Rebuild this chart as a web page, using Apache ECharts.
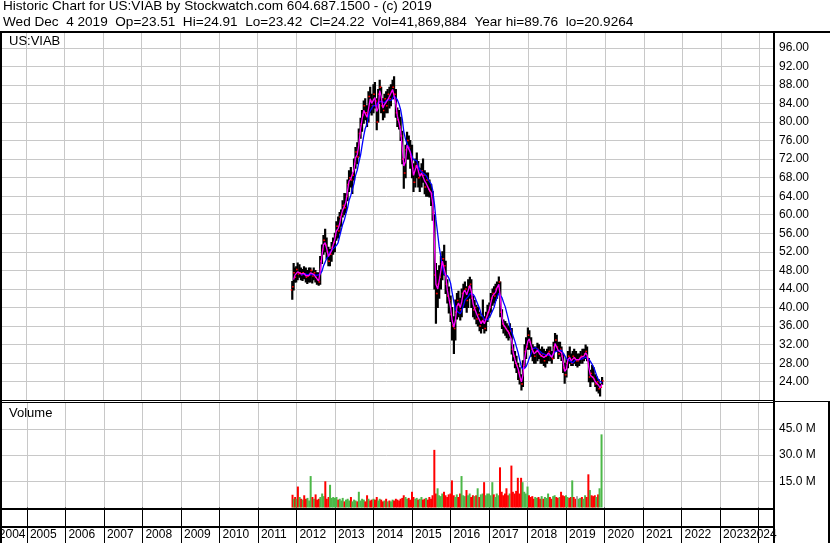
<!DOCTYPE html>
<html><head><meta charset="utf-8">
<script src="https://cdn.jsdelivr.net/npm/echarts@6/dist/echarts.min.js"></script>
<style>html,body{margin:0;padding:0;background:#fff}#c{width:830px;height:543px}</style>
</head><body><div id="c"></div>
<script>
// ---------- data ----------
const dates = [
'2011-11-25','2011-12-08','2011-12-20',
'2012-01-01','2012-01-15','2012-02-01','2012-02-15','2012-03-01','2012-03-15','2012-04-01','2012-04-15','2012-05-01','2012-05-15','2012-06-01','2012-06-15','2012-07-01','2012-07-15','2012-08-01','2012-08-15','2012-09-01','2012-09-15','2012-10-01','2012-10-15','2012-11-01','2012-11-15','2012-12-01','2012-12-15',
'2013-01-01','2013-01-15','2013-02-01','2013-02-15','2013-03-01','2013-03-15','2013-04-01','2013-04-15','2013-05-01','2013-05-15','2013-06-01','2013-06-15','2013-07-01','2013-07-15','2013-08-01','2013-08-15','2013-09-01','2013-09-15','2013-10-01','2013-10-15','2013-11-01','2013-11-15','2013-12-01','2013-12-15',
'2014-01-01','2014-01-15','2014-02-01','2014-02-15','2014-03-01','2014-03-15','2014-04-01','2014-04-15','2014-05-01','2014-05-15','2014-06-01','2014-06-15','2014-07-01','2014-07-15','2014-08-01','2014-08-15','2014-09-01','2014-09-15','2014-10-01','2014-10-15','2014-11-01','2014-11-15','2014-12-01','2014-12-15',
'2015-01-01','2015-01-15','2015-02-01','2015-02-15','2015-03-01','2015-03-15','2015-04-01','2015-04-15','2015-05-01','2015-05-15','2015-06-01','2015-06-15','2015-07-01','2015-07-15','2015-08-01','2015-08-15','2015-09-01','2015-09-15','2015-10-01','2015-10-15','2015-11-01','2015-11-15','2015-12-01','2015-12-15',
'2016-01-01','2016-01-15','2016-02-01','2016-02-15','2016-03-01','2016-03-15','2016-04-01','2016-04-15','2016-05-01','2016-05-15','2016-06-01','2016-06-15','2016-07-01','2016-07-15','2016-08-01','2016-08-15','2016-09-01','2016-09-15','2016-10-01','2016-10-15','2016-11-01','2016-11-15','2016-12-01','2016-12-15',
'2017-01-01','2017-01-15','2017-02-01','2017-02-15','2017-03-01','2017-03-15','2017-04-01','2017-04-15','2017-05-01','2017-05-15','2017-06-01','2017-06-15','2017-07-01','2017-07-15','2017-08-01','2017-08-15','2017-09-01','2017-09-15','2017-10-01','2017-10-15','2017-11-01','2017-11-15','2017-12-01','2017-12-15',
'2018-01-01','2018-01-15','2018-02-01','2018-02-15','2018-03-01','2018-03-15','2018-04-01','2018-04-15','2018-05-01','2018-05-15','2018-06-01','2018-06-15','2018-07-01','2018-07-15','2018-08-01','2018-08-15','2018-09-01','2018-09-15','2018-10-01','2018-10-15','2018-11-01','2018-11-15','2018-12-01','2018-12-15',
'2019-01-01','2019-01-15','2019-02-01','2019-02-15','2019-03-01','2019-03-15','2019-04-01','2019-04-15','2019-05-01','2019-05-15','2019-06-01','2019-06-15','2019-07-01','2019-07-15','2019-08-01','2019-08-15','2019-09-01','2019-09-15','2019-10-01','2019-10-15','2019-11-01','2019-11-15','2019-12-04'
];
const lows = [
41.8,43.8,45.5,
45.5,46.0,46.5,46.0,45.8,46.2,45.5,45.2,45.5,45.5,45.3,46.0,45.5,45.0,44.8,45.0,49.5,51.5,52.0,50.5,49.0,49.0,50.0,51.5,
52,54.5,55,56,57.5,59.5,60,60.5,63,65,66,64.6,67.5,70,71,72.5,76.5,78,79.7,80.5,79,80,82,81.5,
82,83,78.3,80,84,82,80.5,81,82,82,83,83.5,85,85,81,79,78.5,76,71,65.7,68,72,72,70,
68,65,66,68,66,65,66,67,64.5,64,64,63.8,62,58.8,44,36.6,40,42,44,46,47,43,41,38.8,
37,33,30.1,33,37.5,38,37.3,38,40,40,39,40,42,40,38,37.5,36.5,36,35,34.5,35.5,34.5,35,37,
37.9,39,40.5,41,41.5,42,43,38,35.5,34.5,34,33.5,33,33.5,30,28.5,27,26,24.5,23.5,22.2,23,27,29,
31,31,29.5,28.5,28,28,28.5,29,28,28,27.5,27.2,28,28.5,28.5,28,29,30.5,30.5,29,29.5,28.6,26,23.7,
25,27,28,27.5,27.5,28,27.5,27.2,27.5,28,28,28.5,29,28.5,24,23,24,24,23,22,21.6,20.93,23.42
];
const highs = [
45.6,49.5,48.5,
48.8,49.6,49.2,48.5,48.2,48.8,48.5,48.0,48.5,48.5,47.8,48.5,48.0,47.5,47.5,51.0,53.5,55.5,56.9,55.0,53.0,52.5,54.0,55.0,
56,58.5,59.5,60.5,61,63,64.6,64.5,67.5,69.5,70.2,69,72,74.5,75.5,78.5,80.8,82.5,84.5,85,83.5,86.5,87.5,86,
88,88.5,85,87,89,87.5,85,86,86.5,87,87.5,88,89,89.76,87,83,82.5,81,78,72,75,77.8,77,76,
75,71,72,73.3,71.5,70,71,72,69.5,69,69,67.5,66.5,65,60,49.5,48,49,51,52,53.4,50,46,44.4,
42.5,40,38,41.6,43,43.5,42,44,45,45.5,44.5,46,46.5,46,42.5,41.5,40.5,40,39,38,41.6,38,39,40.5,
41,43,44,44.5,45,45.5,46.6,45.5,39.5,37.3,37,36.5,36,36.5,35.5,32,30.5,29.5,28,27,25.5,28.5,32,33.5,
35.6,35,33.5,32,31.5,31.5,32.3,32,31,31.5,31,30.5,31,31.5,31.5,30.5,32.5,34.4,34,32.5,32.5,31.5,30,28,
29,30.5,31.5,30,30.5,31,30.5,30,30,30.5,31,31,31.9,31.5,29,26.5,27.5,27,25.5,25,24.5,23.5,24.91
];
const closes = [
44.5,47.5,46.5,
48.2,47.2,47.5,47.0,47.5,47.2,46.5,46.8,47.0,48.0,46.8,47.5,46.5,46.0,45.5,50.0,52.5,54.5,53.5,52.0,50.0,51.5,53.0,54.0,
55.5,57.5,56.5,59.5,60,62,61.5,64,66.5,68,67.5,68.5,71,73.5,72.5,77.5,79.5,81.5,83.5,82,80,85.5,84.5,83.5,
86,84.5,80,86,87.5,83.5,82.5,85,83.5,86,85,86.5,87.5,86,82,80.5,79,77,72,69,74,76,74.5,72.5,
70,67,70.5,71,68,68.5,69.5,68.5,66,67.5,65.5,65,64.5,60.5,47,43,45,46.5,49.5,50.5,49,45,42.5,41.5,
38.5,36,35.5,39,41.5,40.5,39.5,43,43.5,44,41.5,44.5,45,42,39.5,40,37.5,38.5,36,37,37.5,35.5,38,39,
40,42,43,42.5,44,44.5,45.5,39,36.5,36,35.5,35,34.5,35,31,29.5,28,27.5,26,24.5,23.5,27.5,30.5,31.5,
34,32.5,31,30.5,29.5,30.5,31,30,29.5,30,28.5,29.5,30,30.5,29.5,29,31.5,33,31.5,30,31,29.5,27,25.5,
28,29.5,29,28,29.5,29,28.5,28.5,29,29.5,29,30,30.5,29,25,25.8,25,24.5,23.5,24,22.5,22.8,24.22
];
// volume, millions of shares
const volumes = [
7.3,5,6,
5,12,6,5,4.5,7,5,5.5,4,18,6,5,7.5,4.5,5,6,8,6.5,15,5,6,13,5.5,6,
5.5,6,4.5,5,4,5.5,3.5,4.5,5,4,6,3.5,4.5,4,3.5,9,4,5,4.5,3.5,7,5,4,4.5,
5,4.5,6,4,5,4.5,3.5,4,5,3.5,4,3.5,4.5,4,5,4.5,4,5,5.5,7,6,5,5.5,4.5,
9,6,5,5.5,4.5,5,6,4.5,5,5.5,4.5,6,5,7,33,8,11,7,6.5,8,9,7,6,7.5,
8,15.5,7,6,7.5,6,8,18,7,6.5,10,7,8,6,7,6.5,7,11,6,7.5,8,14.5,7,8,
8,7,14.5,7.5,6,8,7,23,9,7,8,11,7,8,24,9,8,9.5,17,8,17,14.5,9,8,
12,7,6,6.5,5,6,5.5,6,5,6.5,5,6,5.5,8,6,5,6.5,7,6,5.5,6,9,7,6.5,
7,6,5.5,6,15.5,6,5,6.5,5,5.5,6,5,7,6,19,10,7,6.5,7,6,7.5,11,41.87
];
const priceTicks = {min: 20, max: 99.18, step: 4};
const volumeTicks = {min: 0, max: 59.83, step: 15};
const HEADER1 = 'Historic Chart for US:VIAB by Stockwatch.com 604.687.1500 - (c) 2019';
const HEADER2 = 'Wed Dec  4 2019  Op=23.51  Hi=24.91  Lo=23.42  Cl=24.22  Vol=41,869,884  Year hi=89.76  lo=20.9264';
const FAST_MA = 2, SLOW_MA = 7;

// ---------- derived ----------
function movingAverage(arr, n) {
  const out = [];
  for (let i = n - 1; i < arr.length; i++) {
    let s = 0; for (let k = 0; k < n; k++) s += arr[i - k];
    out.push([dates[i], +(s / n).toFixed(3)]);
  }
  return out;
}
const opens = closes.map((c, i) => i === 0 ? lows[0] + 2 : closes[i - 1]);
const ohlc = dates.map((d, i) => [d, lows[i], highs[i], opens[i], closes[i]]);
const volData = dates.map((d, i) => {
  const diff = i === 0 ? -1 : closes[i] - closes[i - 1];
  const col = diff > 0 ? '#4cb848' : (diff < 0 ? '#ff0000' : '#a8a8a8');
  return {value: [d, volumes[i]], itemStyle: {color: col}};
});

// ---------- layout: time axis maps Jan 1 2005 -> x=26, Jan 1 2024 -> x=759.5 ----------
const GRID_W = 773;
const t2005 = new Date(2005, 0, 1).getTime();
const t2024 = new Date(2024, 0, 1).getTime();
const msPerPx = (t2024 - t2005) / (759.5 - 26);
const xMin = t2005 - 26 * msPerPx;
const xMax = xMin + GRID_W * msPerPx;
const YEAR = 365 * 86400000;
const FONT = '"Liberation Sans", Arial, sans-serif';

function isYearStart(v) { const d = new Date(v); return d.getMonth() === 0 && d.getDate() === 1 && d.getHours() === 0; }

const chart = echarts.init(document.getElementById('c'), null, {renderer: 'canvas'});
const gray = '#c8c8c8';
const xBase = {
  type: 'time', min: xMin, max: xMax, minInterval: YEAR, maxInterval: YEAR, splitNumber: 20,
  axisLine: {show: false},
  splitLine: {show: true, lineStyle: {color: gray, width: 1}}
};
chart.setOption({
  animation: false,
  backgroundColor: '#fff',
  grid: [
    {left: 0, top: 33, width: GRID_W, height: 367.3, outerBoundsMode: 'none', containLabel: false},
    {left: 0, top: 403, width: GRID_W, height: 104.5, outerBoundsMode: 'none', containLabel: false}
  ],
  xAxis: [
    Object.assign({}, xBase, {gridIndex: 0, axisTick: {show: false}, axisLabel: {show: false}}),
    Object.assign({}, xBase, {
      gridIndex: 1,
      axisTick: {show: true, length: 35.5, lineStyle: {color: '#000', width: 1}},
      axisLabel: {
        show: true, margin: 27.5, align: 'left', verticalAlign: 'middle', padding: [0, 0, 0, 3],
        fontSize: 12, fontFamily: FONT, color: '#000', hideOverlap: false,
        formatter: v => (isYearStart(v) && new Date(v).getFullYear() < 2024) ? String(new Date(v).getFullYear()) : ''
      }
    })
  ],
  yAxis: [
    {
      gridIndex: 0, type: 'value', position: 'right', min: priceTicks.min, max: priceTicks.max, interval: priceTicks.step,
      axisLine: {show: false}, axisTick: {show: false},
      axisLabel: {margin: 6, fontSize: 12, fontFamily: FONT, color: '#000', showMinLabel: false, showMaxLabel: false,
        formatter: v => v.toFixed(2)},
      splitLine: {show: true, showMinLine: false, showMaxLine: false, lineStyle: {color: gray, width: 1}}
    },
    {
      gridIndex: 1, type: 'value', position: 'right', min: volumeTicks.min, max: volumeTicks.max, interval: volumeTicks.step,
      axisLine: {show: false}, axisTick: {show: false},
      axisLabel: {margin: 6, fontSize: 12, fontFamily: FONT, color: '#000', showMinLabel: false, showMaxLabel: false,
        formatter: v => v.toFixed(1) + ' M'},
      splitLine: {show: true, showMinLine: false, showMaxLine: false, lineStyle: {color: gray, width: 1}}
    }
  ],
  series: [
    {
      type: 'custom', name: 'price', xAxisIndex: 0, yAxisIndex: 0, data: ohlc,
      encode: {x: 0, y: [1, 2]}, clip: true,
      renderItem: function (params, api) {
        const t = api.value(0);
        const pL = api.coord([t, api.value(1)]);
        const pH = api.coord([t, api.value(2)]);
        const pO = api.coord([t, api.value(3)]);
        const pC = api.coord([t, api.value(4)]);
        return {type: 'group', children: [
          {type: 'line', shape: {x1: pL[0], y1: pL[1] + 0.5, x2: pH[0], y2: pH[1] - 0.5}, style: {stroke: '#000', lineWidth: 2.2}},
          {type: 'line', shape: {x1: pO[0] - 1.5, y1: pO[1], x2: pO[0], y2: pO[1]}, style: {stroke: '#ff0000', lineWidth: 1.5}},
          {type: 'line', shape: {x1: pC[0], y1: pC[1], x2: pC[0] + 1.5, y2: pC[1]}, style: {stroke: '#ff0000', lineWidth: 1.5}}
        ]};
      }
    },
    {type: 'line', name: 'slow', xAxisIndex: 0, yAxisIndex: 0, data: movingAverage(closes, SLOW_MA),
      showSymbol: false, lineStyle: {color: '#0000ff', width: 1.3}, z: 3},
    {type: 'line', name: 'fast', xAxisIndex: 0, yAxisIndex: 0, data: movingAverage(closes, FAST_MA),
      showSymbol: false, lineStyle: {color: '#ff00ff', width: 1.3}, z: 4},
    {type: 'bar', name: 'volume', xAxisIndex: 1, yAxisIndex: 1, data: volData, barWidth: 2, barGap: '-100%'}
  ],
  graphic: [
    {type: 'rect', z: 100, shape: {x: 0, y: 31, width: 830, height: 2}, style: {fill: '#000'}},
    {type: 'rect', z: 100, shape: {x: 0, y: 31, width: 2, height: 512}, style: {fill: '#000'}},
    {type: 'rect', z: 100, shape: {x: 773, y: 31, width: 2, height: 512}, style: {fill: '#000'}},
    {type: 'rect', z: 100, shape: {x: 0, y: 400, width: 773, height: 1}, style: {fill: '#000'}},
    {type: 'rect', z: 100, shape: {x: 0, y: 402, width: 773, height: 1}, style: {fill: '#000'}},
    {type: 'rect', z: 100, shape: {x: 0, y: 508, width: 773, height: 2}, style: {fill: '#000'}},
    {type: 'rect', z: 100, shape: {x: 0, y: 526, width: 773, height: 2}, style: {fill: '#000'}},
    {type: 'rect', z: 100, shape: {x: 775, y: 401, width: 55, height: 1}, style: {fill: '#000'}},
    {type: 'rect', z: 100, shape: {x: 828, y: 401, width: 2, height: 142}, style: {fill: '#000'}},
    {type: 'text', z: 101, x: 3, y: 6, scaleX: 1.045, style: {text: HEADER1, font: '13px ' + FONT, fill: '#000', verticalAlign: 'middle'}},
    {type: 'text', z: 101, x: 3, y: 22, scaleX: 1.045, style: {text: HEADER2, font: '13px ' + FONT, fill: '#000', verticalAlign: 'middle'}},
    {type: 'text', z: 101, x: 9, y: 41, style: {text: 'US:VIAB', font: '13px ' + FONT, fill: '#000', verticalAlign: 'middle'}},
    {type: 'text', z: 101, x: 9, y: 413, style: {text: 'Volume', font: '13px ' + FONT, fill: '#000', verticalAlign: 'middle'}},
    {type: 'text', z: 101, x: 25.5, y: 535, style: {text: '2004', font: '12px ' + FONT, fill: '#000', align: 'right', verticalAlign: 'middle'}},
    {type: 'text', z: 101, x: 750, y: 535, style: {text: '2024', font: '12px ' + FONT, fill: '#000', align: 'left', verticalAlign: 'middle'}}
  ]
});
</script></body></html>
